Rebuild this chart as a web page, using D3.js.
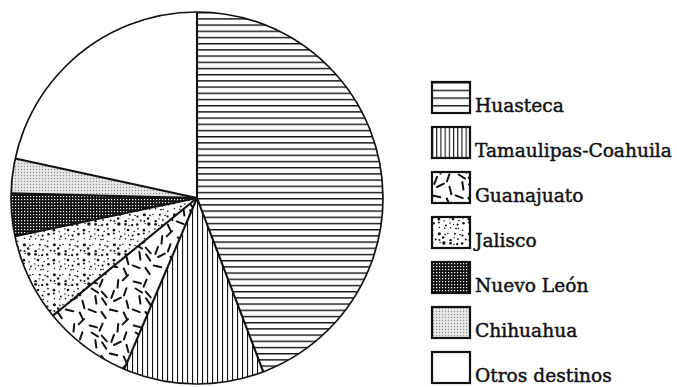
<!DOCTYPE html>
<html>
<head>
<meta charset="utf-8">
<script src="https://cdn.jsdelivr.net/npm/d3@7"></script>
<style>
  html, body { margin: 0; padding: 0; background: #fff; }
  svg { display: block; }
</style>
</head>
<body>
<script>
// Destination shares (percent of total), clockwise from 12 o'clock
const categories = ["Huasteca", "Tamaulipas-Coahuila", "Guanajuato", "Jalisco", "Nuevo León", "Chihuahua", "Otros destinos"];
const shares = [44.2, 12.2, 7.7, 7.6, 3.7, 3.0, 21.6];
const fills = ["hlines", "vlines", "dashes", "dots", "grid", "stipple", "blank"];

const W = 677, H = 387;
const cx = 197, cy = 198, R = 186;
const ink = "#111";

const svg = d3.select("body").append("svg").attr("width", W).attr("height", H);
const defs = svg.append("defs");

// deterministic grain generator for the hatching textures
function grain(seed) {
  let s = seed >>> 0;
  return () => { s = (Math.imul(s, 1664525) + 1013904223) >>> 0; return s / 4294967296; };
}

function tile(id, w, h, bg) {
  const p = defs.append("pattern").attr("id", id)
    .attr("patternUnits", "userSpaceOnUse").attr("width", w).attr("height", h);
  p.append("rect").attr("width", w).attr("height", h).attr("fill", bg);
  return p;
}

function makePatterns(suffix, hGap, vGap) {
  // horizontal rules
  let p = tile("hlines" + suffix, 10, hGap, "#fff");
  p.append("rect").attr("y", 0).attr("width", 10).attr("height", 1.4).attr("fill", ink);
  // vertical rules
  p = tile("vlines" + suffix, vGap, 10, "#fff");
  p.append("rect").attr("x", 0).attr("width", 1.1).attr("height", 10).attr("fill", ink);
  // scattered short dashes
  const T = 44, n = 4, c = T / n;
  p = tile("dashes" + suffix, T, T, "#fff");
  let g = grain(7);
  for (let i = 0; i < n; i++) for (let j = 0; j < n; j++) {
    const x = i * c + 2 + g() * (c - 4), y = j * c + 2 + g() * (c - 4), a = g() * Math.PI, L = 3.8;
    for (const dx of [-T, 0, T]) for (const dy of [-T, 0, T]) {
      p.append("line")
        .attr("x1", x + dx - Math.cos(a) * L).attr("y1", y + dy - Math.sin(a) * L)
        .attr("x2", x + dx + Math.cos(a) * L).attr("y2", y + dy + Math.sin(a) * L)
        .attr("stroke", ink).attr("stroke-width", 2).attr("stroke-linecap", "round");
    }
  }
  // scattered dots of mixed size
  p = tile("dots" + suffix, 30, 30, "#fff");
  g = grain(21);
  for (let i = 0; i < 6; i++) for (let j = 0; j < 6; j++) {
    const x = i * 5 + g() * 4, y = j * 5 + g() * 4, r = 0.7 + g() * g() * 1.6;
    for (const dx of [-30, 0, 30]) for (const dy of [-30, 0, 30]) {
      p.append("circle").attr("cx", x + dx).attr("cy", y + dy).attr("r", r).attr("fill", ink);
    }
  }
  // dense cross-hatch
  p = tile("grid" + suffix, 3, 3, ink);
  p.append("rect").attr("x", 1).attr("y", 1).attr("width", 1.2).attr("height", 1.2).attr("fill", "#fff");
  // light stipple
  p = tile("stipple" + suffix, 3, 3, "#e8e8e8");
  p.append("circle").attr("cx", 1.5).attr("cy", 1.5).attr("r", 0.7).attr("fill", "#8f8f8f");
  // empty
  tile("blank" + suffix, 4, 4, "#fff");
}
makePatterns("", 6.2, 5);
makePatterns("-key", 7.7, 4.2);

// Pie
const pie = d3.pie().sort(null).value(d => d).startAngle(0).endAngle(2 * Math.PI);
const arcs = pie(shares);
const arc = d3.arc().innerRadius(0).outerRadius(R);
const gPie = svg.append("g").attr("transform", `translate(${cx},${cy})`);

gPie.selectAll("path.slice").data(arcs).join("path")
  .attr("class", "slice")
  .attr("d", arc)
  .attr("fill", (d, i) => `url(#${fills[i]})`)
  .attr("stroke", "none");

// radial slice boundaries
gPie.selectAll("line.edge").data(arcs).join("line")
  .attr("class", "edge")
  .attr("x1", 0).attr("y1", 0)
  .attr("x2", d => R * Math.sin(d.startAngle))
  .attr("y2", d => -R * Math.cos(d.startAngle))
  .attr("stroke", ink).attr("stroke-width", 2.1);

gPie.append("circle").attr("r", R).attr("fill", "none").attr("stroke", ink).attr("stroke-width", 1.7);

// Legend
const key = svg.append("g");
const keyX = 432, keyY0 = 82, keyStep = 45, boxW = 38, boxH = 31;
const item = key.selectAll("g").data(categories).join("g")
  .attr("transform", (d, i) => `translate(${keyX},${keyY0 + i * keyStep})`);
item.append("rect")
  .attr("width", boxW).attr("height", boxH)
  .attr("fill", (d, i) => `url(#${fills[i]}-key)`)
  .attr("stroke", ink).attr("stroke-width", 2.2);
item.append("text")
  .attr("x", boxW + 5).attr("y", boxH - 1)
  .attr("font-family", "'DejaVu Serif', serif")
  .attr("font-size", 18.6)
  .attr("fill", ink)
  .attr("stroke", ink).attr("stroke-width", 0.45)
  .text(d => d);
</script>
</body>
</html>
